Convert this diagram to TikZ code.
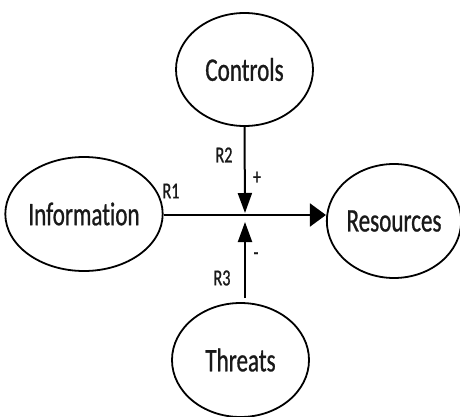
\documentclass[tikz,border=0pt]{standalone}
\usepackage{fontspec}
\newfontfamily\labfont[FakeStretch=0.70, FakeBold=0.8, RawFeature=-liga]{Carlito}
\usetikzlibrary{arrows.meta,shapes.geometric}
\tikzset{
  bubble/.style={draw=black, line width=1.8pt, ellipse, inner sep=0pt,
    font=\labfont\fontsize{33}{38}\selectfont, text=black!90},
  link/.style={line width=2pt, draw=black},
  vtip/.style={-{Triangle[length=20pt,width=14pt]}},
  htip/.style={-{Triangle[length=16pt,width=23pt]}},
  tag/.style={font=\labfont\fontsize{23}{27}\selectfont, text=black!90, inner sep=0pt}
}
\begin{document}
\begin{tikzpicture}[x=1pt,y=-1pt]
\useasboundingbox (0,0) rectangle (460,417);
\node[bubble, minimum width=137pt, minimum height=113pt] (ctrl) at (244.5,69.5) {Controls};
\node[bubble, minimum width=138pt, minimum height=114pt] (info) at (84,214) {Information};
\node[bubble, minimum width=128pt, minimum height=114pt] (res) at (394,221) {Resources};
\node[bubble, minimum width=137pt, minimum height=114pt] (thr) at (240.5,360) {Threats};
\coordinate (j) at (245,215);
\coordinate (jt) at (245,213);
\coordinate (jb) at (245,222);
\draw[link, htip] (j -| info.east) -- (j -| res.west);
\draw[link, vtip] (ctrl.south) -- (jt);
\draw[link, vtip] (245,298) coordinate (tb) -- (jb);
\node[tag] (r1) at (171,191) {R1};
\node[tag] (r2) at (224,155) {R2};
\node[tag] (r3) at (222,278) {R3};
\node[tag] (plus) at (257,178) {+};
\node[tag] (minus) at (256,256) {-};
\end{tikzpicture}
\end{document}
